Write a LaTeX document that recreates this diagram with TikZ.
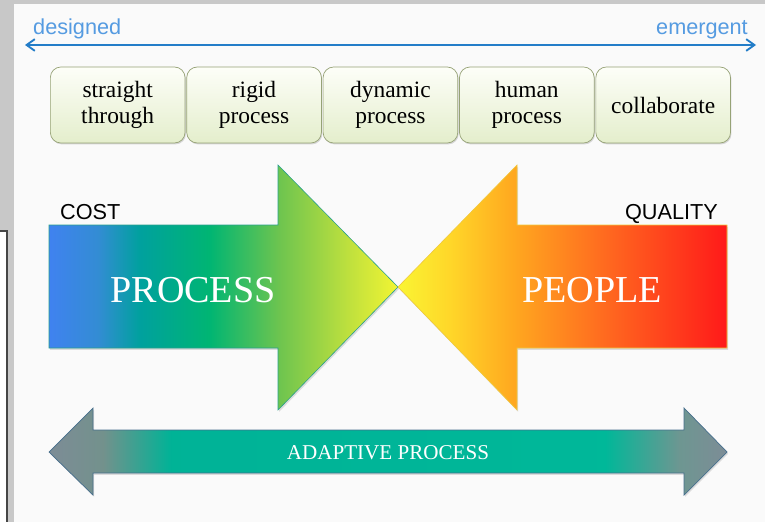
\documentclass[tikz,border=0pt]{standalone}
\usepackage{fontspec}
\setmainfont{Liberation Serif}
\newfontfamily\labelsans{Liberation Sans}
\usetikzlibrary{positioning,shadows,arrows.meta}

\definecolor{slidegray}{RGB}{200,200,200}
\definecolor{slidewhite}{RGB}{250,250,250}
\definecolor{framegray}{RGB}{70,70,70}
\definecolor{scaleblue}{RGB}{35,125,200}
\definecolor{scaletext}{RGB}{85,155,225}
\definecolor{boxtop}{RGB}{253,254,248}
\definecolor{boxbottom}{RGB}{228,238,204}
\definecolor{boxborder}{RGB}{150,162,118}
\definecolor{processedge}{RGB}{40,160,140}
\definecolor{peopleedge}{RGB}{240,200,60}
\definecolor{adaptiveedge}{RGB}{70,110,140}

\pgfdeclarehorizontalshading{processshade}{100bp}{rgb(0bp)=(0.25,0.51,0.94); rgb(25bp)=(0.25,0.51,0.94); rgb(32bp)=(0.2,0.55,0.83); rgb(38bp)=(0,0.63,0.62); rgb(48bp)=(0,0.71,0.45); rgb(58bp)=(0.43,0.77,0.31); rgb(68bp)=(0.75,0.88,0.24); rgb(75bp)=(0.95,0.96,0.2); rgb(100bp)=(0.95,0.96,0.2)}
\pgfdeclarehorizontalshading{peopleshade}{100bp}{rgb(0bp)=(0.98,0.96,0.2); rgb(25bp)=(0.98,0.96,0.2); rgb(33bp)=(1,0.84,0.16); rgb(43bp)=(1,0.65,0.12); rgb(59bp)=(1,0.37,0.12); rgb(75bp)=(1,0.1,0.1); rgb(100bp)=(1,0.1,0.1)}
\pgfdeclarehorizontalshading{adaptiveshade}{100bp}{rgb(0bp)=(0.49,0.55,0.59); rgb(25bp)=(0.49,0.55,0.59); rgb(29bp)=(0.45,0.57,0.55); rgb(34bp)=(0,0.7,0.59); rgb(66bp)=(0,0.72,0.6); rgb(71.5bp)=(0.43,0.59,0.57); rgb(75bp)=(0.49,0.55,0.59); rgb(100bp)=(0.49,0.55,0.59)}

\tikzstyle{stagebox} = [rectangle, rounded corners=9pt, minimum width=4.04cm, minimum height=2.28cm, inner sep=0pt, align=center, draw=boxborder, line width=0.6pt, top color=boxtop, bottom color=boxbottom, font=\fontsize{20}{22}\selectfont, drop shadow={shadow xshift=0.8pt, shadow yshift=-1.2pt, opacity=0.3}]
\tikzstyle{scalelabel} = [inner sep=0pt, font=\labelsans\fontsize{18.5}{22}\selectfont, text=scaletext]
\tikzstyle{axislabel} = [inner sep=0pt, font=\labelsans\fontsize{18.5}{22}\selectfont]
\tikzstyle{bigword} = [inner sep=0pt, text=white, font=\fontsize{32.5}{38}\selectfont]
\tikzstyle{bandword} = [inner sep=0pt, text=white, font=\fontsize{18}{21}\selectfont]
\tikzstyle{scalearrow} = [{Straight Barb[length=7pt,width=10pt]}-{Straight Barb[length=7pt,width=10pt]}, line width=1.6pt, color=scaleblue]
\tikzstyle{bigshadow} = [drop shadow={shadow xshift=1pt, shadow yshift=-1.5pt, opacity=0.25}]

\begin{document}
\begin{tikzpicture}[x=0.03cm, y=0.03cm, node distance=0.03cm]

% Frame
\useasboundingbox (0,0) rectangle (765,522);
\fill[slidegray] (0,0) rectangle (765,522);
\fill[slidewhite] (14,0) rectangle (765,518);
\fill[white] (0,0) rectangle (7,291);
\draw[framegray, line width=1.2pt] (0,291) -- (7,291) -- (7,0);

% Scale from designed to emergent
\coordinate (scaleleft) at (25,477);
\coordinate (scaleright) at (756,477);
\draw[scalearrow] (scaleleft) -- (scaleright);
\node[scalelabel, anchor=base west] (designed) at (33,487) {designed};
\node[scalelabel, anchor=base east] (emergent) at (748,487) {emergent};

% Process kinds
\node[stagebox, anchor=west] (straight) at (50,417) {straight\\through};
\node[stagebox, right=of straight] (rigid) {rigid\\process};
\node[stagebox, right=of rigid] (dynamic) {dynamic\\process};
\node[stagebox, right=of dynamic] (human) {human\\process};
\node[stagebox, right=of human] (collab) {collaborate};

% Process and people arrows
\path[bigshadow, shading=processshade, draw=processedge, line width=0.5pt]
  (49,297) -- (278,297) -- (278,357) -- (398,235) -- (278,112) -- (278,174) -- (49,174) -- cycle;
\path[bigshadow, shading=peopleshade, draw=peopleedge, line width=0.5pt]
  (727,297) -- (517,297) -- (517,357) -- (398,235) -- (517,112) -- (517,174) -- (727,174) -- cycle;
\node[bigword] (processword) at (193,232) {PROCESS};
\node[bigword] (peopleword) at (592,232) {PEOPLE};
\node[axislabel, anchor=base west] (cost) at (60,303) {COST};
\node[axislabel, anchor=base east] (quality) at (718,303) {QUALITY};

% Adaptive process band
\path[bigshadow, shading=adaptiveshade, draw=adaptiveedge, line width=0.6pt]
  (49,70) -- (93,114) -- (93,92) -- (684,92) -- (684,114) -- (727,70) -- (684,27) -- (684,49) -- (93,49) -- (93,27) -- cycle;
\node[bandword] (adaptiveword) at (388,69) {ADAPTIVE PROCESS};

\end{tikzpicture}
\end{document}
